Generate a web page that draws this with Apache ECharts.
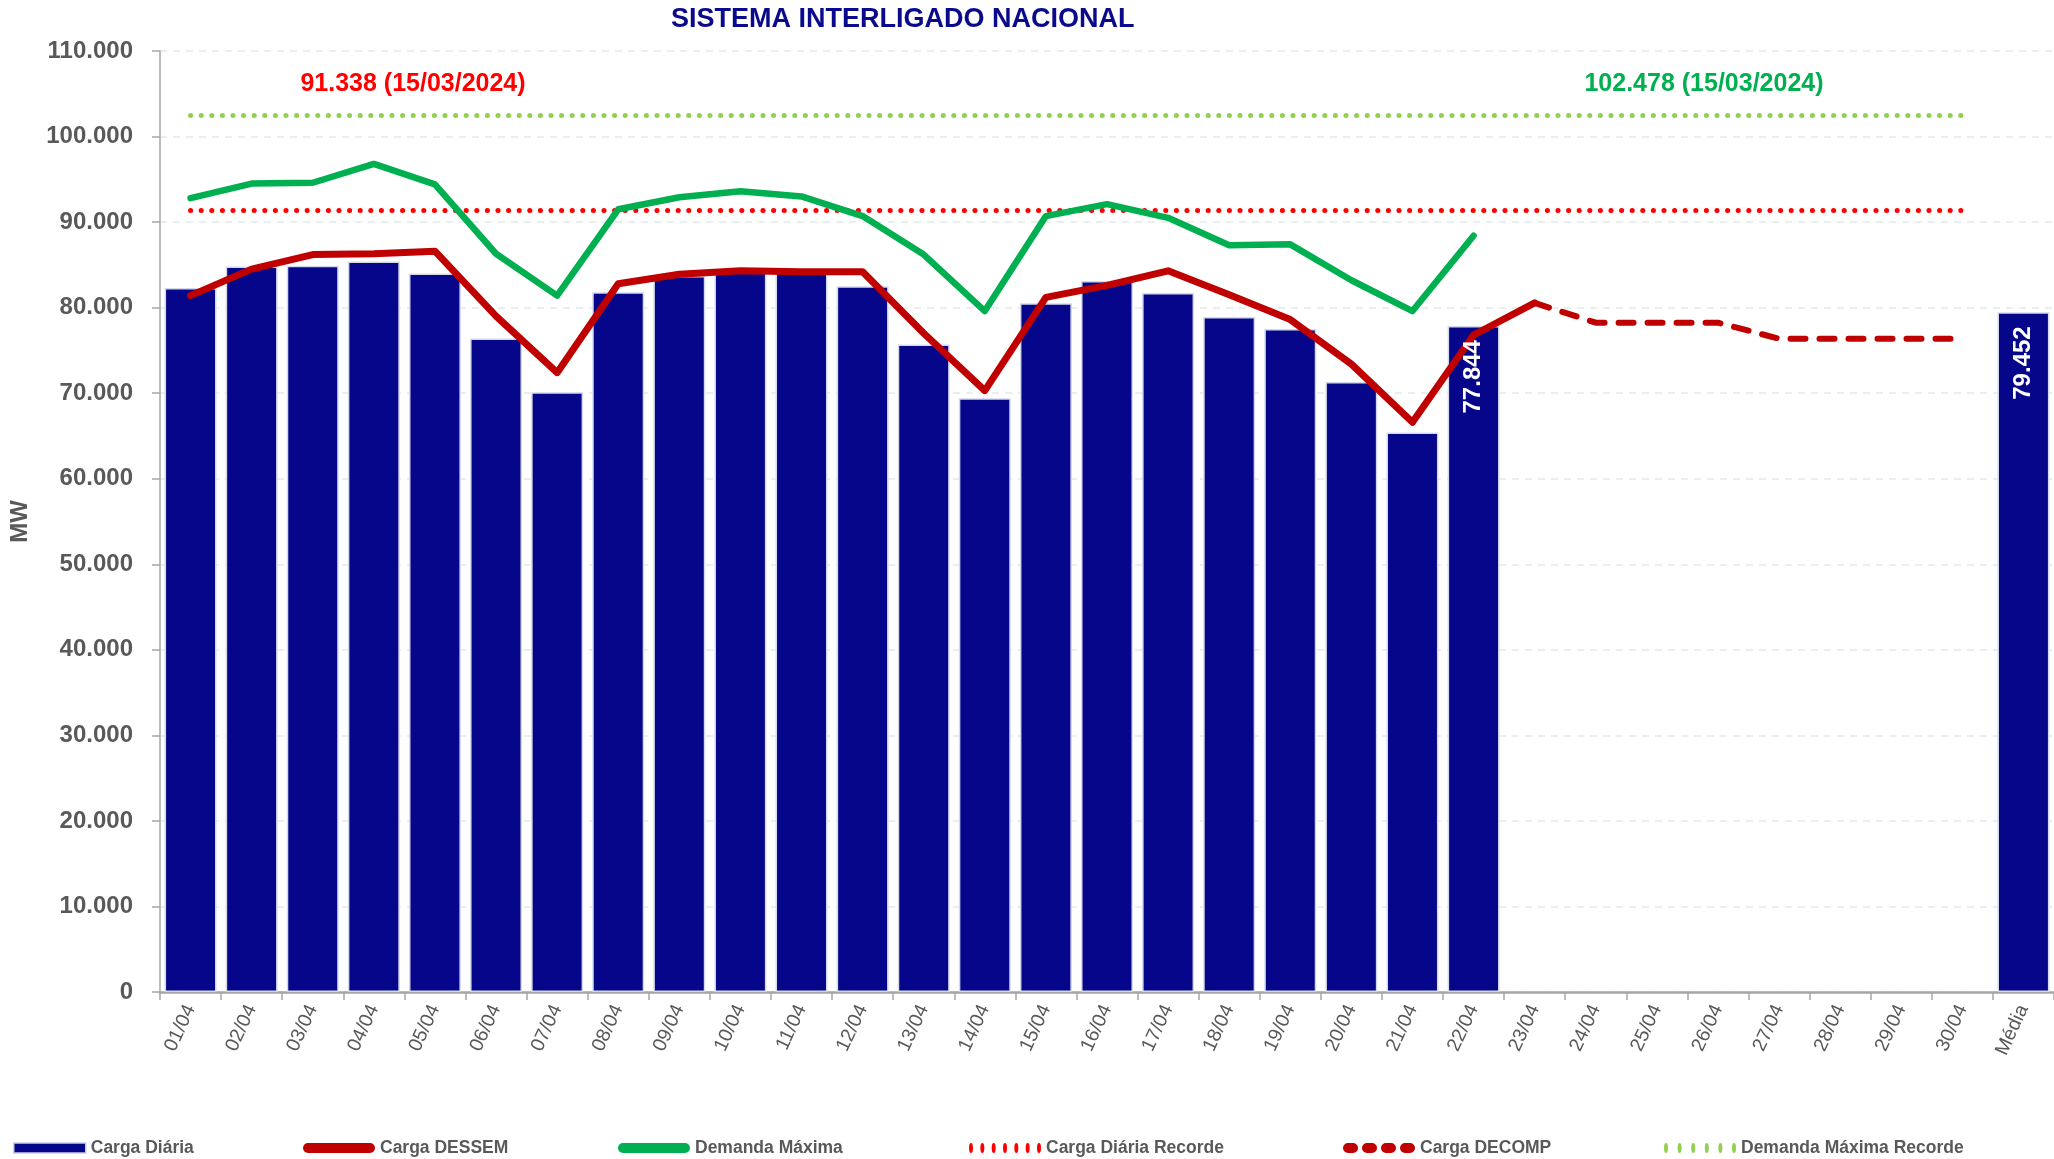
<!DOCTYPE html>
<html>
<head>
<meta charset="utf-8">
<title>Sistema Interligado Nacional</title>
<script src="https://cdn.jsdelivr.net/npm/echarts@6/dist/echarts.min.js"></script>
<style>
  html, body { margin: 0; padding: 0; background: #ffffff; }
  #chart { width: 2054px; height: 1159px; }
</style>
</head>
<body>
<div id="chart"></div>
<script>
// Categorias do eixo X: dias de abril e a média do mês
const dias = ['01/04','02/04','03/04','04/04','05/04','06/04','07/04','08/04','09/04','10/04',
              '11/04','12/04','13/04','14/04','15/04','16/04','17/04','18/04','19/04','20/04',
              '21/04','22/04','23/04','24/04','25/04','26/04','27/04','28/04','29/04','30/04','Média'];

// Carga diária verificada (MW)
const cargaDiaria = [82300, 84800, 84900, 85400, 84000, 76400, 70100, 81800, 83700, 84300,
                     84200, 82500, 75700, 69400, 80500, 83100, 81700, 78900, 77500, 71300,
                     65400, 77844, null, null, null, null, null, null, null, null, 79452];
// Barras que exibem o valor
const cargaDiariaRotulos = ['22/04', 'Média'];

// Carga prevista pelo DESSEM (MW)
const cargaDessem = [81400, 84500, 86200, 86300, 86600, 79000, 72400, 82800, 83900, 84300,
                     84200, 84200, 77000, 70300, 81200, 82600, 84300, 81500, 78600, 73400,
                     66600, 76800, 80550, null, null, null, null, null, null, null, null];

// Demanda máxima diária (MW)
const demandaMaxima = [92800, 94500, 94600, 96800, 94400, 86300, 81400, 91500, 92900, 93600,
                       93000, 90700, 86200, 79600, 90700, 92100, 90500, 87300, 87400, 83200,
                       79600, 88400, null, null, null, null, null, null, null, null, null];

// Carga prevista pelo DECOMP (MW)
const cargaDecomp = [null, null, null, null, null, null, null, null, null, null,
                     null, null, null, null, null, null, null, null, null, null,
                     null, null, 80550, 78240, 78240, 78240, 76370, 76370, 76370, 76370, null];

// Recordes
const recordeCarga = 91338;
const recordeDemanda = 102478;
const dataRecordeCarga = '15/03/2024';
const dataRecordeDemanda = '15/03/2024';

// Marcas do eixo Y
const yMin = 0, yMax = 110000, yPasso = 10000;

const FONT = 'Liberation Sans';
const CINZA = '#595959';

function fmt(v) {
  return String(v).replace(/\B(?=(\d{3})+(?!\d))/g, '.');
}

// Ícones da legenda (caixa 72 x 10)
function iconeCapsula() {
  return 'path://M5,0H67A5,5,0,0,1,67,10H5A5,5,0,0,1,5,0Z';
}
function iconePontilhado(n) {
  const passo = (72 - 4) / (n - 1);
  let d = '';
  for (let k = 0; k < n; k++) {
    const x = k * passo;
    d += 'M' + x + ',5A2,5,0,1,0,' + (x + 4) + ',5A2,5,0,1,0,' + x + ',5Z';
  }
  return 'path://' + d;
}
function iconeTracejado(n) {
  const gap = 4, w = (72 - gap * (n - 1)) / n;
  let d = '';
  for (let k = 0; k < n; k++) {
    const x = k * (w + gap);
    d += 'M' + (x + 5) + ',0H' + (x + w - 5) + 'A5,5,0,0,1,' + (x + w - 5) + ',10H' + (x + 5) + 'A5,5,0,0,1,' + (x + 5) + ',0Z';
  }
  return 'path://' + d;
}

const chart = echarts.init(document.getElementById('chart'), null, { renderer: 'canvas' });

const legendItens = [
  { name: 'Carga Diária', x: 13, icon: 'rect', cor: '#06068A', borda: '#C9D0E6' },
  { name: 'Carga DESSEM', x: 303, icon: iconeCapsula(), cor: '#C00000' },
  { name: 'Demanda Máxima', x: 618, icon: iconeCapsula(), cor: '#00B050' },
  { name: 'Carga Diária Recorde', x: 969, icon: iconePontilhado(7), cor: '#FF0000' },
  { name: 'Carga DECOMP', x: 1343, icon: iconeTracejado(4), cor: '#C00000' },
  { name: 'Demanda Máxima Recorde', x: 1664, icon: iconePontilhado(6), cor: '#92D050' }
];

const rotuloBarra = {
  position: 'insideTop',
  distance: 14,
  rotate: 90,
  align: 'right',
  verticalAlign: 'middle',
  color: '#ffffff',
  fontFamily: FONT,
  fontWeight: 'bold',
  fontSize: 24,
  formatter: p => fmt(p.value)
};

const option = {
  backgroundColor: '#ffffff',
  animation: false,
  textStyle: { fontFamily: FONT },
  title: {
    text: 'SISTEMA INTERLIGADO NACIONAL',
    left: 671,
    top: 6,
    padding: 0,
    textStyle: { color: '#0A0A8C', fontFamily: FONT, fontWeight: 'bold', fontSize: 27 }
  },
  graphic: [
    {
      type: 'text', x: 413, y: 84,
      style: {
        text: fmt(recordeCarga) + ' (' + dataRecordeCarga + ')',
        fill: '#FF0000', font: 'bold 25px "' + FONT + '"',
        textAlign: 'center', textVerticalAlign: 'middle'
      }
    },
    {
      type: 'text', x: 1704, y: 84,
      style: {
        text: fmt(recordeDemanda) + ' (' + dataRecordeDemanda + ')',
        fill: '#00B050', font: 'bold 25px "' + FONT + '"',
        textAlign: 'center', textVerticalAlign: 'middle'
      }
    }
  ],
  legend: legendItens.map(it => ({
    data: [{
      name: it.name,
      icon: it.icon,
      itemStyle: { color: it.cor, borderColor: it.borda || it.cor, borderWidth: it.borda ? 1.5 : 0 },
      lineStyle: { width: 0 }
    }],
    left: it.x,
    top: 1139,
    padding: 0,
    itemWidth: 72,
    itemHeight: 10,
    selectedMode: false,
    textStyle: { color: CINZA, fontFamily: FONT, fontWeight: 'bold', fontSize: 17.5 }
  })),
  grid: { left: 160, top: 51, width: 1896, height: 941, containLabel: false },
  xAxis: {
    type: 'category',
    data: dias,
    boundaryGap: true,
    axisLine: { lineStyle: { color: '#A6A6A6', width: 2.5 } },
    axisTick: { show: true, length: 8, lineStyle: { color: '#A6A6A6', width: 1.5 } },
    axisLabel: {
      interval: 0, rotate: 65, margin: 14,
      color: CINZA, fontFamily: FONT, fontSize: 19.5
    },
    splitLine: { show: false }
  },
  yAxis: {
    type: 'value',
    min: yMin, max: yMax, interval: yPasso,
    name: 'MW',
    nameLocation: 'middle',
    nameGap: 128,
    nameRotate: 90,
    nameTextStyle: { color: CINZA, fontFamily: FONT, fontWeight: 'bold', fontSize: 24 },
    axisLine: { show: true, lineStyle: { color: '#A6A6A6', width: 1.5 } },
    axisTick: { show: true, length: 8, lineStyle: { color: '#A6A6A6', width: 1.5 } },
    axisLabel: {
      margin: 27,
      color: CINZA, fontFamily: FONT, fontWeight: 'bold', fontSize: 24,
      formatter: v => fmt(v)
    },
    splitLine: { show: true, lineStyle: { color: '#E2E9E9', width: 1.5, type: [7, 6] } }
  },
  series: [
    {
      name: 'Carga Diária',
      type: 'bar',
      barCategoryGap: '15%',
      barGap: '-100%',
      itemStyle: { color: '#06068A', borderColor: '#D3DAEA', borderWidth: 1.5 },
      data: cargaDiaria,
      z: 1
    },
    {
      // camada superior só com os rótulos de valor, acima das linhas
      name: 'Carga Diária (rótulos)',
      type: 'bar',
      barCategoryGap: '15%',
      barGap: '-100%',
      silent: true,
      itemStyle: { color: 'rgba(0,0,0,0)', borderWidth: 0 },
      data: cargaDiaria.map((v, i) => cargaDiariaRotulos.includes(dias[i]) ? v : null),
      label: Object.assign({ show: true }, rotuloBarra),
      z: 10
    },
    {
      name: 'Carga Diária Recorde',
      type: 'line',
      data: [],
      symbol: 'none',
      itemStyle: { color: '#FF0000' },
      lineStyle: { color: '#FF0000', width: 5, type: [0.1, 10.5], cap: 'round' },
      markLine: {
        silent: true,
        symbol: 'none',
        label: { show: false },
        lineStyle: { color: '#FF0000', width: 5, type: [0.1, 10.5], cap: 'round' },
        data: [[{ coord: [dias[0], recordeCarga] }, { coord: [dias[29], recordeCarga] }]]
      },
      z: 2
    },
    {
      name: 'Demanda Máxima Recorde',
      type: 'line',
      data: [],
      symbol: 'none',
      itemStyle: { color: '#92D050' },
      lineStyle: { color: '#92D050', width: 5, type: [0.1, 10.5], cap: 'round' },
      markLine: {
        silent: true,
        symbol: 'none',
        label: { show: false },
        lineStyle: { color: '#92D050', width: 5, type: [0.1, 10.5], cap: 'round' },
        data: [[{ coord: [dias[0], recordeDemanda] }, { coord: [dias[29], recordeDemanda] }]]
      },
      z: 2
    },
    {
      name: 'Carga DECOMP',
      type: 'line',
      data: cargaDecomp,
      symbol: 'none',
      connectNulls: false,
      itemStyle: { color: '#C00000' },
      lineStyle: { color: '#C00000', width: 6, type: [15, 14], cap: 'round', join: 'round' },
      z: 3
    },
    {
      name: 'Carga DESSEM',
      type: 'line',
      data: cargaDessem,
      symbol: 'none',
      itemStyle: { color: '#C00000' },
      lineStyle: { color: '#C00000', width: 7, cap: 'round', join: 'round' },
      z: 4
    },
    {
      name: 'Demanda Máxima',
      type: 'line',
      data: demandaMaxima,
      symbol: 'none',
      itemStyle: { color: '#00B050' },
      lineStyle: { color: '#00B050', width: 6.5, cap: 'round', join: 'round' },
      z: 5
    }
  ]
};

chart.setOption(option);
</script>
</body>
</html>
